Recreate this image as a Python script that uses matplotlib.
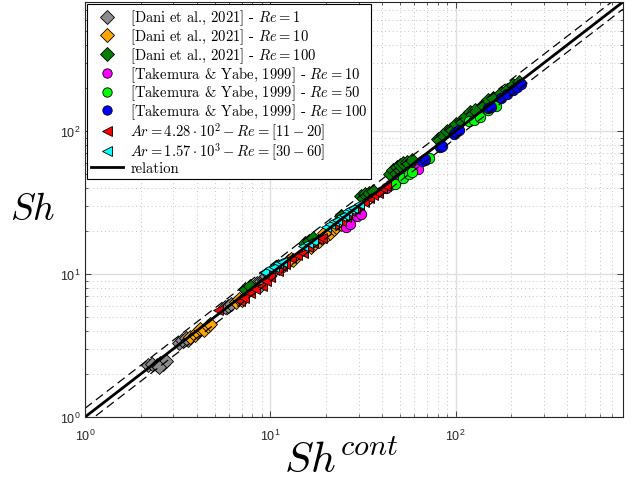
import numpy as np
from matplotlib import pyplot as plt

plt.rcParams['font.family'] = 'Liberation Sans'
plt.rcParams['mathtext.fontset'] = 'cm'

#Dani et al. 2021 (diamonds)
dani_re1_x = [2.2, 2.3, 2.45, 2.55, 2.65, 2.75, 2.5, 3.2, 3.35, 3.5, 3.6, 5.7, 5.9, 6.1,
              8.5, 8.9, 9.2, 9.5, 9.8, 10.2, 10.6, 11.0, 8.8]
dani_re1_y = [2.3, 2.35, 2.3, 2.4, 2.35, 2.45, 2.25, 3.3, 3.45, 3.55, 3.45, 5.9, 6.0, 6.2,
              8.6, 9.0, 9.1, 9.7, 10.0, 10.4, 10.9, 11.4, 8.3]

dani_re10_x = [3.7, 3.9, 4.0, 4.2, 4.4, 4.6, 4.7, 6.5, 6.8, 7.0, 11.2, 11.8, 12.5, 13.0, 13.3,
               16.5, 17.5, 18.3, 19.0, 20.0, 21.0, 22.0, 22.5, 24.0, 26.0, 17.0, 19.5]
dani_re10_y = [3.65, 3.75, 3.9, 4.1, 4.05, 4.3, 4.45, 6.4, 6.7, 6.6, 11.0, 11.5, 12.4, 12.8, 12.6,
               15.5, 16.5, 17.0, 17.8, 18.5, 19.5, 20.5, 21.2, 22.5, 24.0, 17.5, 19.5]

dani_re100_x = [7.3, 7.8, 15.3, 16.2, 17.0, 24.0, 31.0, 32.5, 34.0, 36.0,
                44.0, 46.0, 48.0, 50.0, 52.0, 55.0, 58.0,
                80.0, 86.0, 90.0, 95.0, 100.0, 107.0, 113.0, 120.0,
                128.0, 140.0, 150.0, 160.0, 175.0, 190.0, 205.0, 220.0]
dani_re100_y = [7.9, 8.3, 16.6, 17.0, 17.8, 25.5, 35.0, 36.5, 37.0, 38.0,
                50.0, 53.0, 56.0, 58.0, 59.5, 61.0, 63.0,
                88.0, 94.0, 100.0, 104.0, 112.0, 118.0, 125.0, 135.0,
                140.0, 152.0, 165.0, 170.0, 185.0, 195.0, 210.0, 220.0]

#Takemura & Yabe 1999 (circles)
tak_re10_x = [25.5, 27.0, 29.5, 31.0, 42.0, 44.5, 47.0, 49.0, 63.0]
tak_re10_y = [21.5, 22.5, 25.5, 26.5, 40.0, 42.0, 44.0, 46.5, 54.0]

tak_re50_x = [47.0, 52.0, 56.0, 58.0, 68.0, 72.0, 118.0, 125.0, 135.0, 150.0, 165.0]
tak_re50_y = [42.5, 47.0, 50.0, 51.5, 63.0, 65.0, 117.0, 120.0, 125.0, 140.0, 150.0]

tak_re100_x = [66.0, 68.0, 82.0, 84.0, 98.0, 100.0, 105.0, 150.0, 155.0, 175.0, 190.0, 205.0, 215.0, 225.0]
tak_re100_y = [62.0, 63.5, 77.0, 79.0, 95.0, 98.0, 101.0, 145.0, 148.0, 170.0, 182.0, 195.0, 205.0, 212.0]

#present simulations (triangles)
ar428_x = [5.2, 6.9, 7.2, 7.8, 8.3, 9.0, 9.5, 10.0, 11.0, 11.5, 12.0, 13.0, 14.0, 15.0, 16.0,
           17.0, 18.0, 19.0, 22.0, 24.0, 25.5, 27.0, 28.5, 30.0, 32.0, 34.0, 36.0, 38.0, 40.0, 42.0]
ar428_y = [5.6, 6.5, 6.8, 7.4, 7.9, 8.3, 9.0, 9.5, 10.5, 11.3, 11.8, 13.0, 13.5, 14.0, 15.5,
           16.5, 17.5, 18.0, 22.0, 23.5, 25.0, 27.5, 28.5, 30.5, 32.0, 34.0, 35.5, 37.0, 40.0, 41.0]

ar1570_x = [9.3, 10.0, 10.5, 11.0, 11.5, 15.0, 16.0, 17.0, 20.0, 21.0, 22.0, 23.0, 24.0, 25.0,
            26.0, 27.0, 28.0, 30.0]
ar1570_y = [10.3, 11.0, 11.2, 12.0, 12.2, 15.8, 16.5, 17.0, 21.5, 22.5, 23.5, 24.0, 25.5, 26.0,
            27.5, 28.5, 29.0, 31.0]

lims = [1, 800]
upper_fac = 1.15
lower_fac = 0.89

fig = plt.figure(figsize=(6.35, 4.81), dpi=100)
ax = fig.add_axes([0.1339, 0.131, 0.847, 0.8628])
ax.set_xscale('log')
ax.set_yscale('log')

mk = dict(linestyle='none', markeredgecolor='k', markeredgewidth=0.6, markersize=7.5)
ax.plot(dani_re1_x, dani_re1_y, 'D', color='#8c8c8c', label=r'[Dani et al., 2021] - $Re = 1$', **mk)
ax.plot(dani_re10_x, dani_re10_y, 'D', color='#ffa500', label=r'[Dani et al., 2021] - $Re = 10$', **mk)
ax.plot(dani_re100_x, dani_re100_y, 'D', color='#007f00', label=r'[Dani et al., 2021] - $Re = 100$', **mk)
ax.plot(tak_re10_x, tak_re10_y, 'o', color='#ff00ff', label=r'[Takemura & Yabe, 1999] - $Re = 10$', **mk)
ax.plot(tak_re50_x, tak_re50_y, 'o', color='#00ff00', label=r'[Takemura & Yabe, 1999] - $Re = 50$', **mk)
ax.plot(tak_re100_x, tak_re100_y, 'o', color='#0000ff', label=r'[Takemura & Yabe, 1999] - $Re = 100$', **mk)
ax.plot(ar428_x, ar428_y, '<', color='#ff0000', label=r'$Ar = 4.28 \cdot 10^2 - Re = [11 - 20]$', **mk)
ax.plot(ar1570_x, ar1570_y, '<', color='#00ffff', label=r'$Ar = 1.57 \cdot 10^3 - Re = [30 - 60]$', **mk)

#relation and error band
xl = np.array(lims, dtype=float)
ax.plot(xl, xl, 'k-', lw=2, label='relation')
ax.plot(xl, xl * upper_fac, 'k', lw=0.9, ls=(0, (7, 4)))
ax.plot(xl, xl * lower_fac, 'k', lw=0.9, ls=(0, (7, 4)))

ax.set_xlim(lims)
ax.set_ylim(lims)

ax.grid(True, which='major', color='#dedede', lw=1.0, ls='-')
ax.grid(True, which='minor', color='#c4c4c4', lw=0.7, ls=(0, (1, 3)))
ax.set_axisbelow(True)
ax.tick_params(which='both', direction='in', top=True, right=True, colors='#262626', labelsize=9)
ax.tick_params(which='major', length=4, width=0.6)
ax.tick_params(which='minor', length=2, width=0.5)
ax.tick_params(axis='x', pad=8)
for s in ax.spines.values():
    s.set_color('#262626')
    s.set_linewidth(0.8)

ax.set_xlabel(r'$Sh^{cont}$', fontsize=31)
ax.xaxis.set_label_coords(0.476, -0.058, transform=ax.transAxes)
ax.xaxis.label.set_va('top')
ax.set_ylabel(r'$Sh$', fontsize=27, rotation=0, va='center', ha='center')
ax.yaxis.set_label_coords(-0.097, 0.5)

leg = ax.legend(loc='upper left', prop=dict(family='cmr10', size=10.5), fancybox=False,
                edgecolor='k', framealpha=1, borderaxespad=0.15, handlelength=2.2,
                handletextpad=0.5, labelspacing=-0.06, borderpad=0.25, markerscale=0.9)
leg.get_frame().set_linewidth(0.8)

plt.savefig('out.png', dpi=100)
